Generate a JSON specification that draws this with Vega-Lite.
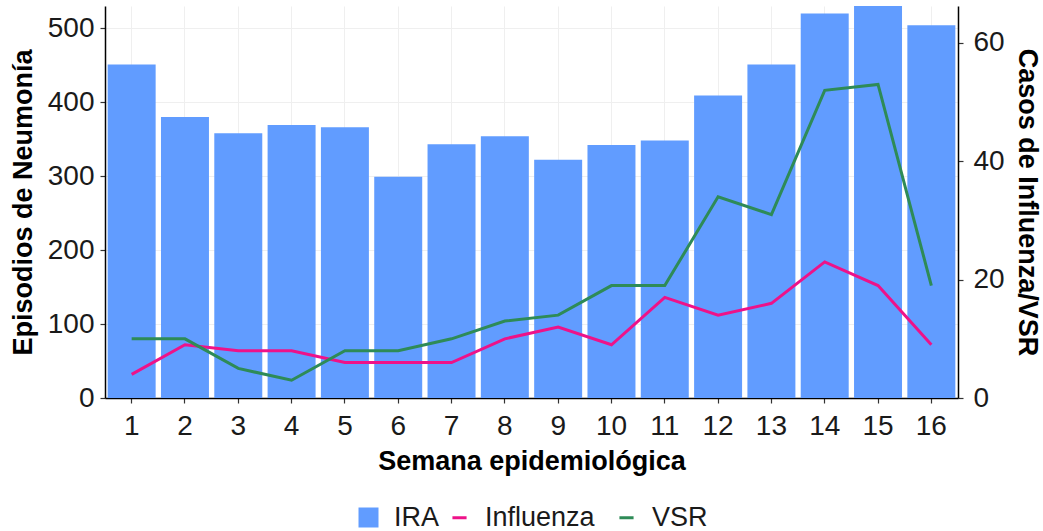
{
  "$schema": "https://vega.github.io/schema/vega-lite/v6.json",
  "width": 853,
  "height": 392,
  "autosize": {"type": "none"},
  "padding": {"left": 105, "top": 6, "right": 85, "bottom": 133},
  "background": "white",
  "config": {
    "font": "Liberation Sans",
    "view": {"stroke": null},
    "axis": {
      "labelFont": "Liberation Sans",
      "labelFontSize": 28,
      "labelColor": "#1a1a1a",
      "titleFont": "Liberation Sans",
      "titleFontSize": 27,
      "titleFontWeight": "bold",
      "titleColor": "#000000",
      "domainColor": "#000000",
      "domainWidth": 1.5,
      "tickColor": "#333333",
      "tickSize": 5,
      "tickWidth": 1.2,
      "gridColor": "#efefef",
      "gridWidth": 1
    },
    "legend": {
      "orient": "bottom",
      "direction": "horizontal",
      "offset": 30,
      "labelFont": "Liberation Sans",
      "labelFontSize": 27,
      "labelColor": "#1a1a1a",
      "layout": {"bottom": {"anchor": "middle", "direction": "horizontal", "center": true, "margin": 6}}
    }
  },
  "data": {
    "values": [
      {"semana": 1, "IRA": 451, "Influenza": 4, "VSR": 10},
      {"semana": 2, "IRA": 380, "Influenza": 9, "VSR": 10},
      {"semana": 3, "IRA": 358, "Influenza": 8, "VSR": 5},
      {"semana": 4, "IRA": 369, "Influenza": 8, "VSR": 3},
      {"semana": 5, "IRA": 366, "Influenza": 6, "VSR": 8},
      {"semana": 6, "IRA": 299, "Influenza": 6, "VSR": 8},
      {"semana": 7, "IRA": 343, "Influenza": 6, "VSR": 10},
      {"semana": 8, "IRA": 354, "Influenza": 10, "VSR": 13},
      {"semana": 9, "IRA": 322, "Influenza": 12, "VSR": 14},
      {"semana": 10, "IRA": 342, "Influenza": 9, "VSR": 19},
      {"semana": 11, "IRA": 348, "Influenza": 17, "VSR": 19},
      {"semana": 12, "IRA": 409, "Influenza": 14, "VSR": 34},
      {"semana": 13, "IRA": 451, "Influenza": 16, "VSR": 31},
      {"semana": 14, "IRA": 520, "Influenza": 23, "VSR": 52},
      {"semana": 15, "IRA": 530, "Influenza": 19, "VSR": 53},
      {"semana": 16, "IRA": 504, "Influenza": 9, "VSR": 19}
    ]
  },
  "layer": [
    {
      "mark": {"type": "bar"},
      "encoding": {
        "x": {
          "field": "semana",
          "type": "ordinal",
          "scale": {"paddingInner": 0.1, "paddingOuter": 0.05},
          "axis": {"title": "Semana epidemiológica", "labelAngle": 0, "labelPadding": 9, "titlePadding": 8, "grid": true}
        },
        "y": {
          "field": "IRA",
          "type": "quantitative",
          "scale": {"domain": [0, 530], "nice": false},
          "axis": {"title": "Episodios de Neumonía", "values": [0, 100, 200, 300, 400, 500], "labelPadding": 6, "titlePadding": 10, "grid": true}
        },
        "fill": {
          "datum": "IRA",
          "type": "nominal",
          "scale": {"domain": ["IRA"], "range": ["#619CFF"]},
          "legend": {"title": null, "symbolType": "square", "symbolSize": 400, "symbolStrokeWidth": 0, "labelOffset": 12}
        }
      }
    },
    {
      "transform": [{"fold": ["Influenza", "VSR"], "as": ["serie", "casos"]}],
      "mark": {"type": "line", "strokeWidth": 3},
      "encoding": {
        "x": {"field": "semana", "type": "ordinal"},
        "y": {
          "field": "casos",
          "type": "quantitative",
          "scale": {"domain": [0, 66.25], "nice": false},
          "axis": {"orient": "right", "title": "Casos de Influenza/VSR", "values": [0, 20, 40, 60], "labelPadding": 10, "titlePadding": 8, "grid": false}
        },
        "stroke": {
          "field": "serie",
          "type": "nominal",
          "scale": {"domain": ["Influenza", "VSR"], "range": ["#EE1289", "#2E8B57"]},
          "legend": {"title": null, "symbolType": "stroke", "symbolSize": 200, "symbolStrokeWidth": 3, "labelOffset": 12, "columnPadding": 18}
        }
      }
    }
  ],
  "resolve": {"scale": {"y": "independent"}}
}
